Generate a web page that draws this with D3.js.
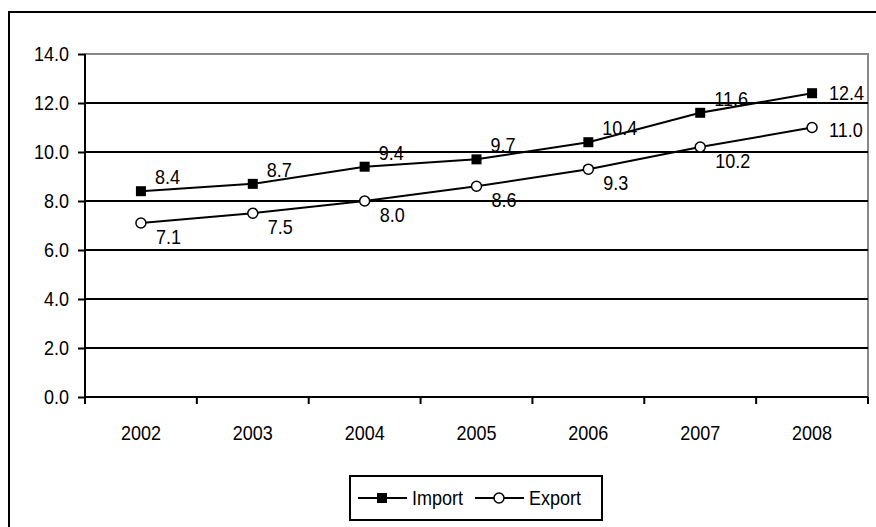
<!DOCTYPE html>
<html><head><meta charset="utf-8">
<script src="https://cdn.jsdelivr.net/npm/d3@7"></script>
<style>body{margin:0;background:#fff}svg{display:block;font-family:"Liberation Sans",Arial,sans-serif}</style>
</head><body><svg id="c" width="876" height="527"></svg>
<script>
const years = ["2002","2003","2004","2005","2006","2007","2008"];
const importVals = [8.4, 8.7, 9.4, 9.7, 10.4, 11.6, 12.4];
const exportVals = [7.1, 7.5, 8.0, 8.6, 9.3, 10.2, 11.0];
const yTicks = [0, 2, 4, 6, 8, 10, 12, 14];
const seriesNames = ["Import", "Export"];

const svg = d3.select("#c");
const L = 85, R = 868, T = 54, B = 397;
const FS = 20, SX = 0.9;
const x = d3.scaleBand().domain(years).range([L, R]).padding(0);
const y = d3.scaleLinear().domain([0, 14]).range([B, T]);
const cx = d => x(d) + x.bandwidth() / 2;

// place text condensed horizontally (matches the stretched look of the original)
function txt(sel, fx, fy, anchor, baseline) {
  return sel.attr("x", 0).attr("y", 0)
    .attr("transform", (d, i) => `translate(${fx(d, i)},${fy(d, i)}) scale(${SX},1)`)
    .attr("text-anchor", anchor || "start")
    .attr("dominant-baseline", baseline || "central")
    .attr("font-size", FS).attr("fill", "#000");
}

// outer border
svg.append("rect").attr("x", 9).attr("y", 12).attr("width", 900).attr("height", 600)
  .attr("fill", "none").attr("stroke", "#000").attr("stroke-width", 2);

// plot area border (gray)
svg.append("rect").attr("x", L).attr("y", T).attr("width", R - L).attr("height", B - T)
  .attr("fill", "none").attr("stroke", "#888").attr("stroke-width", 2);

// gridlines
svg.append("g").selectAll("line").data(yTicks.filter(v => v > 0 && v < 14)).join("line")
  .attr("x1", L).attr("x2", R).attr("y1", d => y(d)).attr("y2", d => y(d))
  .attr("stroke", "#000").attr("stroke-width", 2);

// y axis
const yAxis = svg.append("g").attr("transform", `translate(${L},0)`)
  .call(d3.axisLeft(y).tickValues(yTicks).tickFormat("").tickSize(7));
yAxis.select(".domain").attr("stroke-width", 2).attr("d", `M0,${T}V${B}`);
yAxis.selectAll(".tick line").attr("stroke-width", 2);
txt(svg.append("g").selectAll("text").data(yTicks).join("text"),
  d => L - 16, d => y(d), "end").text(d => d3.format(".1f")(d));

// x axis
const xg = svg.append("g").attr("transform", `translate(0,${B})`);
xg.append("line").attr("x1", L).attr("x2", R).attr("stroke", "#000").attr("stroke-width", 2);
const bounds = years.map(d => x(d)).concat([R]);
xg.selectAll(".xt").data(bounds).join("line").attr("class", "xt")
  .attr("x1", d => d).attr("x2", d => d).attr("y1", 0).attr("y2", 7)
  .attr("stroke", "#000").attr("stroke-width", 2);
txt(svg.append("g").selectAll("text").data(years).join("text"),
  d => cx(d), d => B + 36, "middle").text(d => d);

// lines
const line = d3.line().x((d, i) => cx(years[i])).y(d => y(d));
[importVals, exportVals].forEach(vals => {
  svg.append("path").datum(vals).attr("d", line).attr("fill", "none")
    .attr("stroke", "#000").attr("stroke-width", 2);
});

// markers
svg.append("g").selectAll("rect").data(importVals).join("rect")
  .attr("x", (d, i) => cx(years[i]) - 5).attr("y", d => y(d) - 5)
  .attr("width", 10).attr("height", 10).attr("fill", "#000");
svg.append("g").selectAll("circle").data(exportVals).join("circle")
  .attr("cx", (d, i) => cx(years[i])).attr("cy", d => y(d)).attr("r", 5)
  .attr("fill", "#fff").attr("stroke", "#000").attr("stroke-width", 1.5);

// data labels
const last = years.length - 1;
txt(svg.append("g").selectAll("text").data(importVals).join("text"),
  (d, i) => cx(years[i]) + (i === last ? 17 : 14),
  (d, i) => y(d) + (i === last ? 0 : -14)).text(d => d.toFixed(1));
txt(svg.append("g").selectAll("text").data(exportVals).join("text"),
  (d, i) => cx(years[i]) + (i === last ? 17 : 15),
  (d, i) => y(d) + (i === last ? 3 : 14)).text(d => d.toFixed(1));

// legend
const lg = svg.append("g");
lg.append("rect").attr("x", 350).attr("y", 476).attr("width", 252).attr("height", 44)
  .attr("fill", "#fff").attr("stroke", "#000").attr("stroke-width", 2);
const ly = 498;
const items = [{x0: 358, tx: 412}, {x0: 475, tx: 529}];
items.forEach((it, k) => {
  lg.append("line").attr("x1", it.x0).attr("x2", it.x0 + 49).attr("y1", ly).attr("y2", ly)
    .attr("stroke", "#000").attr("stroke-width", 2);
  const mx = it.x0 + 24;
  if (k === 0) lg.append("rect").attr("x", mx - 5).attr("y", ly - 5).attr("width", 10).attr("height", 10).attr("fill", "#000");
  else lg.append("circle").attr("cx", mx).attr("cy", ly).attr("r", 5).attr("fill", "#fff").attr("stroke", "#000").attr("stroke-width", 1.5);
  txt(lg.append("text").datum(k), () => it.tx, () => ly).text(seriesNames[k]);
});
</script></body></html>
